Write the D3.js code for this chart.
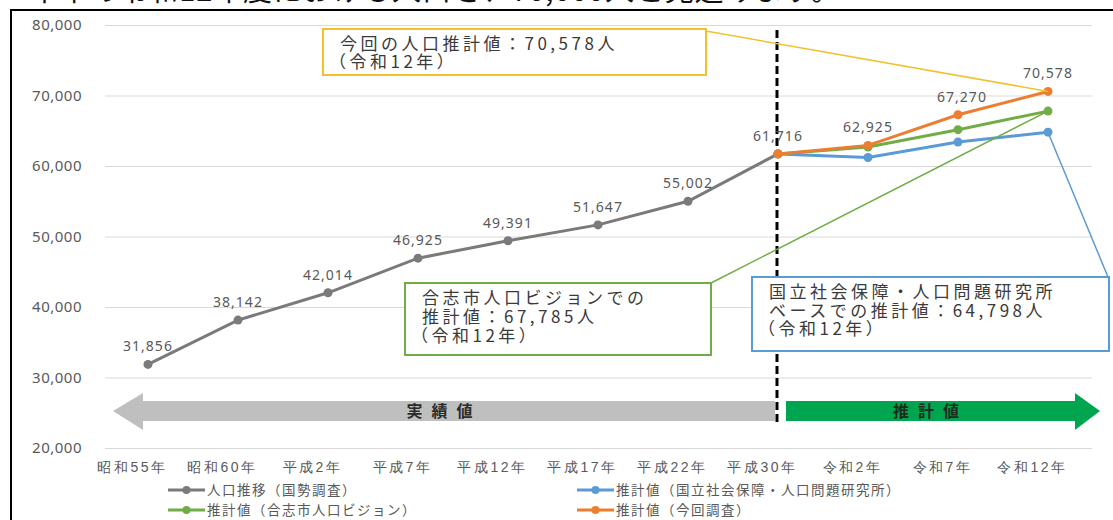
<!DOCTYPE html>
<html>
<head>
<meta charset="utf-8">
<script src="https://cdn.jsdelivr.net/npm/d3@7"></script>
<style>
    body { margin: 0; background: #fff; }
    svg { display: block; font-family: "Noto Sans CJK JP", "Noto Sans", sans-serif; }
</style>
</head>
<body>
<svg id="canvas"></svg>
<script>
const categories = ["昭和55年", "昭和60年", "平成2年", "平成7年", "平成12年", "平成17年", "平成22年", "平成30年", "令和2年", "令和7年", "令和12年"];
const actual = [31856, 38142, 42014, 46925, 49391, 51647, 55002, 61716, null, null, null];
const ipss = [null, null, null, null, null, null, null, 61716, 61200, 63400, 64798];
const vision = [null, null, null, null, null, null, null, 61716, 62700, 65150, 67785];
const current = [null, null, null, null, null, null, null, 61716, 62925, 67270, 70578];
const yTicks = [20000, 30000, 40000, 50000, 60000, 70000, 80000];

const seriesNames = ["人口推移（国勢調査）", "推計値（国立社会保障・人口問題研究所）", "推計値（合志市人口ビジョン）", "推計値（今回調査）"];
const seriesColors = ["#7a7a7a", "#5b9bd5", "#70ad47", "#ed7d31"];

const width = 1113;
const height = 520;

const svg = d3.select("#canvas")
    .attr("width", width)
    .attr("height", height);

const fmt = d3.format(",");

const x = d3.scalePoint()
    .domain(categories)
    .range([148, 1048]);

const y = d3.scaleLinear()
    .domain([20000, 80000])
    .range([448, 25]);

// heading cut off at the top of the crop
svg.append("text")
    .attr("x", 30)
    .attr("y", 1)
    .attr("textLength", 810)
    .attr("lengthAdjust", "spacing")
    .style("font-size", "29px")
    .attr("fill", "#111")
    .text("本市の令和12年度における人口を、70,000人と見込みます。");

// frame
svg.append("path")
    .attr("d", `M11,${height} V10 H${width}`)
    .attr("fill", "none")
    .attr("stroke", "#000")
    .attr("stroke-width", 2);

const yAxis = svg.append("g")
    .attr("transform", "translate(105,0)")
    .call(d3.axisLeft(y).tickValues(yTicks).tickSize(-987).tickPadding(23).tickFormat(fmt));
yAxis.select(".domain").remove();
yAxis.selectAll("line").attr("stroke", "#d9d9d9").attr("stroke-width", 1.2);
yAxis.selectAll("text")
    .attr("fill", "#595959")
    .style("font-size", "15px")
    .style("letter-spacing", "0.5px")
    .style("font-family", "'Noto Sans', sans-serif");

const xAxis = svg.append("g")
    .attr("transform", "translate(0,448)")
    .call(d3.axisBottom(x).tickSize(0).tickPadding(14));
xAxis.select(".domain").remove();
xAxis.selectAll("text")
    .attr("fill", "#595959")
    .attr("dx", -16)
    .style("font-size", "14px")
    .style("letter-spacing", "2.5px");

// arrows
const split = x("平成30年");
const gl = x(categories[0]) - 35, gr = split - 3;
svg.append("path")
    .attr("d", `M${gl},411 L${gl + 30},393 V401 H${gr} V421 H${gl + 30} V430 Z`)
    .attr("fill", "#bfbfbf");
svg.append("text")
    .attr("x", (gl + gr) / 2)
    .attr("y", 417)
    .attr("text-anchor", "middle")
    .style("font-size", "16px")
    .style("font-weight", "bold")
    .style("letter-spacing", "9px")
    .attr("fill", "#2b2b2b")
    .text("実績値");

const rl = split + 8, rr = x(categories[categories.length - 1]) + 52;
svg.append("path")
    .attr("d", `M${rl},401 H${rr - 25} V393 L${rr},411 L${rr - 25},430 V421 H${rl} Z`)
    .attr("fill", "#00a550");
svg.append("text")
    .attr("x", (rl + rr - 25) / 2)
    .attr("y", 417)
    .attr("text-anchor", "middle")
    .style("font-size", "16px")
    .style("font-weight", "bold")
    .style("letter-spacing", "9px")
    .attr("fill", "#1d2b1d")
    .text("推計値");

// split line
svg.append("line")
    .attr("x1", split - 1)
    .attr("x2", split - 1)
    .attr("y1", 30)
    .attr("y2", 426)
    .attr("stroke", "#000")
    .attr("stroke-width", 3)
    .attr("stroke-dasharray", "8,4");

const series = [actual, ipss, vision, current];
const line = d3.line()
    .defined(d => d.v !== null)
    .x(d => x(d.c))
    .y(d => y(d.v));

series.forEach((s, i) => {
    const pts = categories.map((c, j) => ({ c: c, v: s[j] }));
    svg.append("path")
        .datum(pts)
        .attr("d", line)
        .attr("fill", "none")
        .attr("stroke", seriesColors[i])
        .attr("stroke-width", 3);
    svg.selectAll(".dot" + i)
        .data(pts.filter(d => d.v !== null))
        .enter()
        .append("circle")
        .attr("class", "dot" + i)
        .attr("cx", d => x(d.c))
        .attr("cy", d => y(d.v))
        .attr("r", 4.5)
        .attr("fill", seriesColors[i]);
});

// value labels
const labelPts = categories.map((c, j) => ({ c: c, v: actual[j] })).filter(d => d.v !== null)
    .concat(categories.map((c, j) => ({ c: c, v: current[j] })).slice(8));

svg.selectAll(".val")
    .data(labelPts)
    .enter()
    .append("text")
    .attr("class", "val")
    .attr("x", d => x(d.c) + (d.c === "令和7年" ? 4 : 0))
    .attr("y", d => y(d.v) - 13)
    .attr("text-anchor", "middle")
    .attr("fill", "#595959")
    .style("font-size", "14px")
    .style("letter-spacing", "1px")
    .style("font-family", "'Noto Sans', sans-serif")
    .text(d => fmt(d.v));

// callouts
const callouts = [
    { box: [323, 29, 383, 46], color: "#f2c12e", from: [706, 31], to: ["令和12年", current[10]],
      lines: ["今回の人口推計値：" + fmt(current[10]) + "人", "（令和12年）"], top: 50, step: 18 },
    { box: [405, 283, 306, 72], color: "#70ad47", from: [711, 283], to: ["令和12年", vision[10]],
      lines: ["合志市人口ビジョンでの", "推計値：" + fmt(vision[10]) + "人", "（令和12年）"], top: 304, step: 19 },
    { box: [752, 277, 357, 74], color: "#5b9bd5", from: [1108, 277], to: ["令和12年", ipss[10]],
      lines: ["国立社会保障・人口問題研究所", "ベースでの推計値：" + fmt(ipss[10]) + "人", "（令和12年）"], top: 298, step: 18.5 }
];

callouts.forEach(c => {
    svg.append("line")
        .attr("x1", c.from[0])
        .attr("y1", c.from[1])
        .attr("x2", x(c.to[0]))
        .attr("y2", y(c.to[1]))
        .attr("stroke", c.color)
        .attr("stroke-width", 1.5);
    svg.append("rect")
        .attr("x", c.box[0])
        .attr("y", c.box[1])
        .attr("width", c.box[2])
        .attr("height", c.box[3])
        .attr("fill", "#fff")
        .attr("stroke", c.color)
        .attr("stroke-width", 2);
    svg.append("text")
        .attr("fill", "#3a3a3a")
        .style("font-size", "17px")
        .style("letter-spacing", "3.5px")
        .selectAll("tspan")
        .data(c.lines)
        .enter()
        .append("tspan")
        .attr("x", d => c.box[0] + (d.startsWith("（") ? 6 : 17))
        .attr("y", (d, i) => c.top + i * c.step)
        .text(d => d);
});

// legend
const legendPos = [[168, 490], [577, 490], [168, 510], [577, 510]];
const legend = svg.selectAll(".legend-item")
    .data(seriesNames)
    .enter()
    .append("g")
    .attr("class", "legend-item")
    .attr("transform", (d, i) => `translate(${legendPos[i][0]},${legendPos[i][1]})`);

legend.append("line")
    .attr("x1", 0)
    .attr("x2", 37)
    .attr("stroke", (d, i) => seriesColors[i])
    .attr("stroke-width", 3);
legend.append("circle")
    .attr("cx", 18.5)
    .attr("r", 4)
    .attr("fill", (d, i) => seriesColors[i]);
legend.append("text")
    .attr("x", 39)
    .attr("y", 5)
    .attr("fill", "#595959")
    .style("font-size", "13.5px")
    .style("letter-spacing", "1.5px")
    .text(d => d);
</script>
</body>
</html>
